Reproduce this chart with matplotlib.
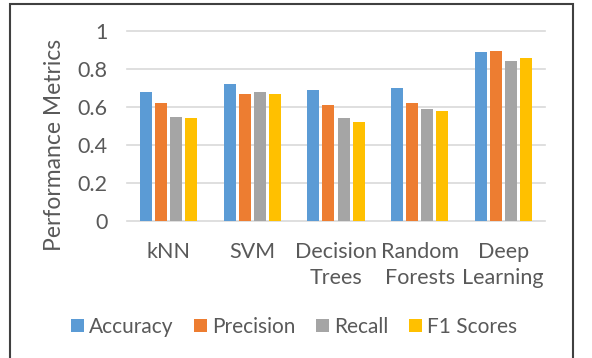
import matplotlib
matplotlib.use("Agg")
import matplotlib.pyplot as plt
import numpy as np
from matplotlib.patches import Rectangle

categories = ["kNN", "SVM", "Decision\nTrees", "Random\nForests", "Deep\nLearning"]
series_names = ["Accuracy", "Precision", "Recall", "F1 Scores"]
accuracy = [0.68, 0.72, 0.69, 0.70, 0.89]
precision = [0.62, 0.67, 0.61, 0.62, 0.895]
recall = [0.55, 0.68, 0.54, 0.59, 0.84]
f1_scores = [0.54, 0.67, 0.52, 0.58, 0.86]
yticks = [0, 0.2, 0.4, 0.6, 0.8, 1]
ytick_labels = ["0", "0.2", "0.4", "0.6", "0.8", "1"]

colors = ["#5B9BD5", "#ED7D31", "#A5A5A5", "#FFC000"]

plt.rcParams['font.family'] = ['Lato', 'DejaVu Sans']

W, H = 592, 358
fig = plt.figure(figsize=(W / 100, H / 100), dpi=100)
ax = fig.add_axes([127 / W, 1 - 221 / H, (545 - 127) / W, (221 - 31) / H])

x = np.arange(len(categories))
bw = 0.143
step = 0.18
allv = [accuracy, precision, recall, f1_scores]
for i, (vals, name, c) in enumerate(zip(allv, series_names, colors)):
    ax.bar(x + (i - 1.5) * step, vals, bw, color=c, label=name, zorder=3)

ax.set_xlim(-0.5, len(categories) - 0.5)
ax.set_ylim(0, 1)
ax.set_yticks(yticks)
ax.set_yticklabels(ytick_labels)
ax.set_xticks(x)
ax.set_xticklabels(categories, linespacing=1.4)
ax.grid(axis='y', color='#D9D9D9', linewidth=1.2, zorder=0)
for gl in ax.get_ygridlines():
    gl.set_clip_on(False)
for s in ax.spines.values():
    s.set_visible(False)
ax.tick_params(axis='both', length=0, labelsize=15.5, colors='#595959')
ax.tick_params(axis='y', pad=14)
ax.tick_params(axis='x', pad=15)

fig.text(55 / W, 1 - 145 / H, "Performance Metrics", rotation=90, ha='center', va='center',
         fontsize=16.5, color='#595959')

fig.legend(loc='center', bbox_to_anchor=(294 / W, 1 - 327 / H), ncol=4, frameon=False,
           fontsize=15, handlelength=0.6, handleheight=0.6, handletextpad=0.25,
           columnspacing=1.0, labelcolor='#595959')

fig.patches.append(Rectangle((10 / W, -0.1), (573 - 10) / W, 1.1 - 4 / H,
                             transform=fig.transFigure, fill=False,
                             edgecolor='#404040', linewidth=1.5))

fig.savefig("out.png", dpi=100)
